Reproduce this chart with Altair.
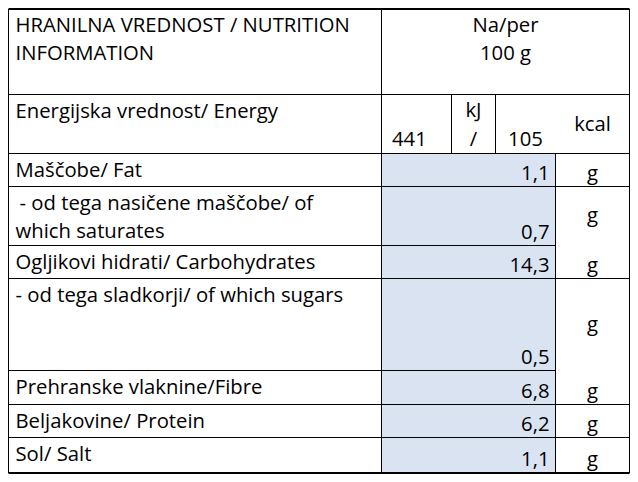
import altair as alt
import pandas as pd

# ---------------- data (table content) ----------------
header_left = ["HRANILNA VREDNOST / NUTRITION", "INFORMATION"]
header_right = ["Na/per", "100 g"]
energy_label = "Energijska vrednost/ Energy"
energy_kj = "441"
energy_kcal = "105"
energy_units = ["kJ", "/", "kcal"]
nutrient_labels = [
    ["Maščobe/ Fat"],
    ["- od tega nasičene maščobe/ of", "which saturates"],
    ["Ogljikovi hidrati/ Carbohydrates"],
    ["- od tega sladkorji/ of which sugars"],
    ["Prehranske vlaknine/Fibre"],
    ["Beljakovine/ Protein"],
    ["Sol/ Salt"],
]
nutrient_values = ["1,1", "0,7", "14,3", "0,5", "6,8", "6,2", "1,1"]
nutrient_units = ["g", "g", "g", "g", "g", "g", "g"]

# ---------------- layout ----------------
W, H = 622, 466
FONT = "Open Sans"
FS = 20.3
LINE_H = 28.3
row_edges = [1, 86.5, 145.5, 178.5, 237.5, 270.5, 362.5, 396.5, 429.5, 465]
col_left, col_val, col_kj1, col_kj2, col_unit, col_right = 0.5, 373.5, 443.5, 487.5, 547.5, 621.5
first_line_indent = [0, 4, 0, 0, 0, 0, 0]
unit_valign = ["bottom", "middle", "bottom", "middle", "bottom", "bottom", "bottom"]
# horizontal rules that stop at the unit column (no border in the unit column)
partial_rows = {4, 6}

xs = alt.Scale(domain=[0, W], nice=False, zero=False)
ys = alt.Scale(domain=[0, H], nice=False, zero=False, reverse=True)

# rules
rules = []
for i, y in enumerate(row_edges):
    w = 2 if i in (0, len(row_edges) - 1) else 1
    x2 = col_unit if i in partial_rows else col_right
    rules.append(dict(x=col_left, x2=x2, y=y, y2=y, w=w))
for x in (col_left, col_val, col_right):
    rules.append(dict(x=x, x2=x, y=row_edges[0], y2=row_edges[-1], w=1))
for x in (col_kj1, col_kj2):
    rules.append(dict(x=x, x2=x, y=row_edges[1], y2=row_edges[2], w=1))
rules.append(dict(x=col_unit, x2=col_unit, y=row_edges[2], y2=row_edges[-1], w=1))
rules_df = pd.DataFrame(rules)

fill_df = pd.DataFrame([dict(x=col_val + 0.5, x2=col_unit - 0.5, y=row_edges[2] + 0.5, y2=row_edges[-1] - 1)])

texts = []  # x, y, text, align
LX = 7.5
top = row_edges[0]
for k, t in enumerate(header_left):
    texts.append(dict(x=LX, y=top + 22.5 + k * LINE_H, text=t, align="left"))
for k, t in enumerate(header_right):
    texts.append(dict(x=(col_val + col_right) / 2, y=top + 22.5 + k * LINE_H, text=t, align="center"))
# energy row
et, eb = row_edges[1], row_edges[2]
texts.append(dict(x=LX, y=et + 23, text=energy_label, align="left"))
texts.append(dict(x=col_val + 10.5, y=eb - 7.7, text=energy_kj, align="left"))
texts.append(dict(x=(col_kj1 + col_kj2) / 2, y=et + 22, text=energy_units[0], align="center"))
texts.append(dict(x=(col_kj1 + col_kj2) / 2, y=eb - 7.7, text=energy_units[1], align="center"))
texts.append(dict(x=(col_kj2 + col_unit) / 2, y=eb - 7.7, text=energy_kcal, align="center"))
texts.append(dict(x=(col_unit + col_right) / 2, y=(et + eb) / 2 + 7, text=energy_units[2], align="center"))
# nutrient rows
for i, lines in enumerate(nutrient_labels):
    t0, t1 = row_edges[2 + i], row_edges[3 + i]
    for k, line in enumerate(lines):
        indent = first_line_indent[i] if k == 0 else 0
        texts.append(dict(x=LX + indent, y=t0 + 23 + k * LINE_H, text=line, align="left"))
    texts.append(dict(x=col_unit - 6, y=t1 - 7, text=nutrient_values[i], align="right"))
    uy = t1 - 7 if unit_valign[i] == "bottom" else (t0 + t1) / 2 + 6
    texts.append(dict(x=(col_unit + col_right) / 2, y=uy, text=nutrient_units[i], align="center"))
text_df = pd.DataFrame(texts)

fill = alt.Chart(fill_df).mark_rect(color="#dae3f2").encode(
    x=alt.X("x:Q", scale=xs, axis=None),
    x2="x2:Q",
    y=alt.Y("y:Q", scale=ys, axis=None),
    y2="y2:Q",
)
lines = alt.Chart(rules_df).mark_rule(color="#000000").encode(
    x=alt.X("x:Q", scale=xs, axis=None),
    x2="x2:Q",
    y=alt.Y("y:Q", scale=ys, axis=None),
    y2="y2:Q",
    strokeWidth=alt.StrokeWidth("w:Q", scale=None),
)
text_layers = []
for al in ("left", "center", "right"):
    text_layers.append(
        alt.Chart(text_df[text_df["align"] == al]).mark_text(
            align=al, baseline="alphabetic", font=FONT, fontSize=FS, color="#000000"
        ).encode(
            x=alt.X("x:Q", scale=xs, axis=None),
            y=alt.Y("y:Q", scale=ys, axis=None),
            text="text:N",
        )
    )

chart = alt.layer(fill, lines, *text_layers).properties(
    width=W, height=H, padding=0, autosize=alt.AutoSizeParams(type="none"), background="white"
).configure_view(stroke=None)

chart.save("out.html", embed_options={"renderer": "svg", "actions": False})
